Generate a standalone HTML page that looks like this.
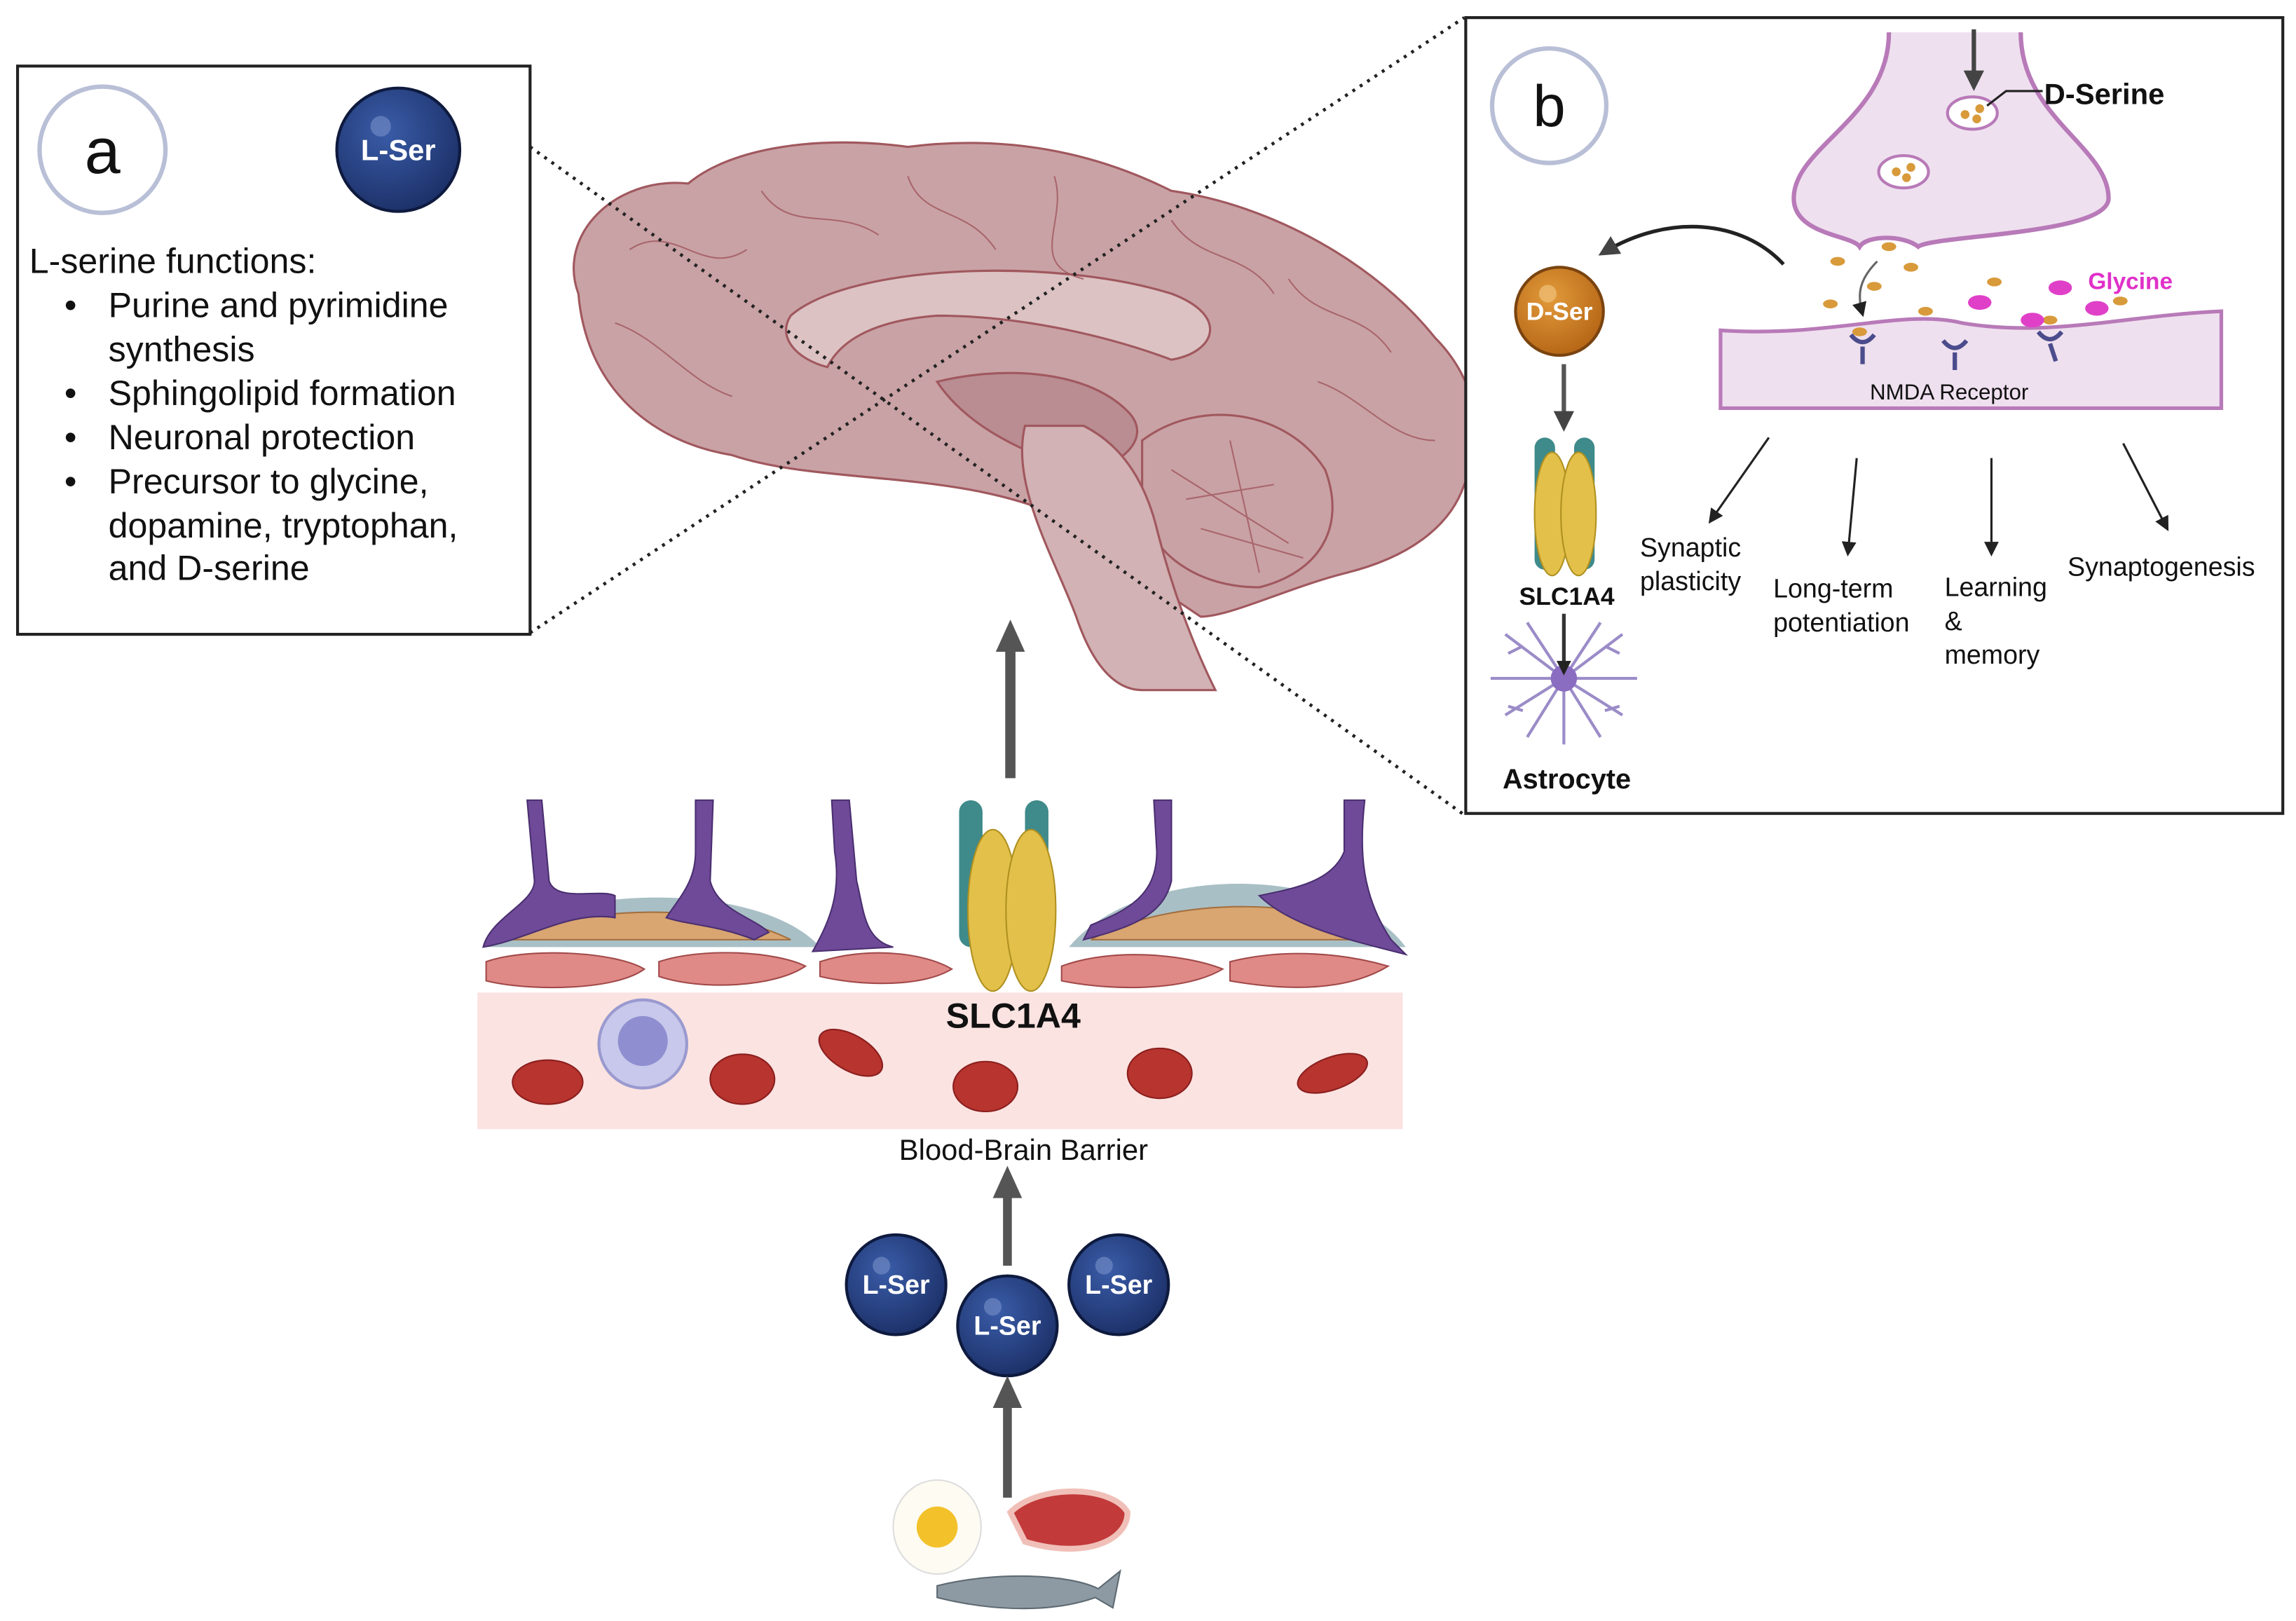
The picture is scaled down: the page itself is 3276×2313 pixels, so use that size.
<!DOCTYPE html>
<html><head><meta charset="utf-8"><style>
html,body{margin:0;padding:0;background:#fff;}
svg{display:block;}
text{font-family:"Liberation Sans",sans-serif;}
</style></head><body>
<svg width="3276" height="2313" viewBox="0 0 1568 1104" preserveAspectRatio="none" xmlns="http://www.w3.org/2000/svg">
<defs>
<radialGradient id="ls" cx="0.4" cy="0.35" r="0.7"><stop offset="0" stop-color="#3a5ca8"/><stop offset="1" stop-color="#1b2f66"/></radialGradient>
<radialGradient id="ds" cx="0.4" cy="0.35" r="0.7"><stop offset="0" stop-color="#e29a3a"/><stop offset="1" stop-color="#b46414"/></radialGradient>
<marker id="ah" markerUnits="userSpaceOnUse" markerWidth="10" markerHeight="10" refX="8" refY="5" orient="auto"><path d="M0,0 L10,5 L0,10 Z" fill="#222"/></marker>
<marker id="am" markerUnits="userSpaceOnUse" markerWidth="14" markerHeight="14" refX="10" refY="7" orient="auto"><path d="M0,0 L14,7 L0,14 Z" fill="#444"/></marker>
<marker id="ab" markerUnits="userSpaceOnUse" markerWidth="22" markerHeight="22" refX="14" refY="11" orient="auto"><path d="M0,1 L22,11 L0,21 Z" fill="#555"/></marker>
</defs>

<!-- Brain -->
<g stroke="#a0585e" stroke-width="1.5">
<path d="M395,200 C380,160 420,120 470,125 C500,100 560,92 620,100 C700,90 760,110 800,130 C870,140 940,180 980,230 C1010,260 1015,300 1000,330 C990,360 960,380 920,390 C880,400 840,420 820,420 C790,400 760,380 720,350 C650,320 560,330 500,310 C440,300 400,260 395,200 Z" fill="#c9a2a5"/>
<path d="M540,215 C580,180 720,175 800,200 C840,215 830,240 800,245 C760,230 700,215 640,215 C600,218 575,230 565,250 C545,245 530,230 540,215 Z" fill="#dcc2c3"/>
<path d="M640,260 C680,250 740,250 770,280 C790,300 760,320 740,320 C700,310 660,290 640,260 Z" fill="#b98d92"/>
<path d="M780,300 C820,270 880,280 905,320 C920,360 900,390 860,400 C820,400 790,380 780,350 Z" fill="#c9a2a5"/>
<path d="M700,290 C690,330 720,380 735,420 C745,450 760,470 780,470 L830,470 C815,440 800,400 790,360 C780,320 760,300 740,290 Z" fill="#d2b2b4"/>
</g>
<g stroke="#a0585e" stroke-width="1" fill="none" opacity="0.8">
<path d="M430,170 C460,150 480,190 510,170 M520,130 C540,160 570,140 600,160 M620,120 C630,150 660,140 680,170 M720,120 C730,150 700,180 740,190 M800,150 C820,180 850,170 870,200 M880,190 C900,220 930,210 950,240 M420,220 C450,230 470,260 500,270 M900,260 C930,270 950,300 980,300 M800,320 L880,370 M810,340 L870,330 M820,360 L890,380 M840,300 L860,390"/>
</g>

<!-- Dotted lines -->
<g stroke="#222" stroke-width="2.2" stroke-dasharray="2,4" fill="none">
<line x1="362" y1="100" x2="1000" y2="555"/>
<line x1="362" y1="431" x2="1000" y2="12"/>
</g>

<!-- Box a -->
<rect x="12" y="45" width="350" height="387" fill="#fff" stroke="#222" stroke-width="2"/>
<circle cx="70" cy="102" r="43" fill="#fff" stroke="#b8bfd6" stroke-width="3"/>
<text x="70" y="118" font-size="44" text-anchor="middle" fill="#111">a</text>
<circle cx="272" cy="102" r="42" fill="url(#ls)" stroke="#0e1a3e" stroke-width="2"/>
<circle cx="260" cy="86" r="7" fill="#6f87c2" opacity="0.7"/>
<text x="272" y="109" font-size="20" font-weight="bold" text-anchor="middle" fill="#fff">L-Ser</text>
<g font-size="24" fill="#111">
<text x="20" y="186">L-serine functions:</text>
<text x="44" y="216">•</text><text x="74" y="216">Purine and pyrimidine</text>
<text x="74" y="246">synthesis</text>
<text x="44" y="276">•</text><text x="74" y="276">Sphingolipid formation</text>
<text x="44" y="306">•</text><text x="74" y="306">Neuronal protection</text>
<text x="44" y="336">•</text><text x="74" y="336">Precursor to glycine,</text>
<text x="74" y="366">dopamine, tryptophan,</text>
<text x="74" y="395">and D-serine</text>
</g>

<!-- Box b -->
<rect x="1001" y="12" width="558" height="542" fill="#fff" stroke="#222" stroke-width="2"/>
<circle cx="1058" cy="72" r="39" fill="#fff" stroke="#b8bfd6" stroke-width="3"/>
<text x="1058" y="86" font-size="40" text-anchor="middle" fill="#111">b</text>
<path d="M1290,22 C1290,80 1225,100 1225,135 C1225,160 1265,160 1270,168 C1275,160 1300,160 1310,168 C1320,160 1440,160 1440,135 C1440,100 1380,80 1380,22" fill="#efe0ef" stroke="#b87ab8" stroke-width="3"/>
<path d="M1175,225 C1250,230 1300,210 1340,220 C1400,230 1450,215 1517,212 L1517,278 L1175,278 Z" fill="#efe0ef" stroke="#b87ab8" stroke-width="2.5"/>
<ellipse cx="1347" cy="77" rx="17" ry="11" fill="#fff" stroke="#b87ab8" stroke-width="2"/>
<ellipse cx="1300" cy="117" rx="17" ry="11" fill="#fff" stroke="#b87ab8" stroke-width="2"/>
<g fill="#d89a3a"><circle cx="1342" cy="78" r="3"/><circle cx="1352" cy="74" r="3"/><circle cx="1350" cy="81" r="3"/><circle cx="1295" cy="117" r="3"/><circle cx="1305" cy="114" r="3"/><circle cx="1302" cy="121" r="3"/>
<ellipse cx="1255" cy="178" rx="5" ry="3"/><ellipse cx="1290" cy="168" rx="5" ry="3"/><ellipse cx="1305" cy="182" rx="5" ry="3"/><ellipse cx="1250" cy="207" rx="5" ry="3"/><ellipse cx="1280" cy="195" rx="5" ry="3"/><ellipse cx="1315" cy="212" rx="5" ry="3"/><ellipse cx="1362" cy="192" rx="5" ry="3"/><ellipse cx="1400" cy="218" rx="5" ry="3"/><ellipse cx="1448" cy="205" rx="5" ry="3"/><ellipse cx="1270" cy="226" rx="5" ry="3"/></g>
<g fill="#e040c8"><ellipse cx="1352" cy="206" rx="8" ry="5"/><ellipse cx="1407" cy="196" rx="8" ry="5"/><ellipse cx="1388" cy="218" rx="8" ry="5"/><ellipse cx="1432" cy="210" rx="8" ry="5"/></g>
<g stroke="#4b4c8c" stroke-width="3" fill="none"><path d="M1264,228 q8,10 16,0 M1272,236 v12"/><path d="M1327,232 q8,10 16,0 M1335,240 v12"/><path d="M1392,226 q8,10 16,0 M1400,234 l4,12"/></g>
<line x1="1348" y1="20" x2="1348" y2="58" stroke="#444" stroke-width="3" marker-end="url(#am)"/>
<path d="M1282,178 C1270,190 1268,200 1272,214" stroke="#666" stroke-width="1.5" fill="none" marker-end="url(#ah)"/>
<path d="M1357,72 L1370,62 L1395,62" stroke="#222" stroke-width="1.5" fill="none"/>
<text x="1396" y="71" font-size="20" font-weight="bold" fill="#111">D-Serine</text>
<text x="1426" y="197" font-size="16" font-weight="bold" fill="#e030c8">Glycine</text>
<text x="1277" y="272" font-size="15" fill="#111">NMDA Receptor</text>
<path d="M1218,180 C1190,150 1140,145 1095,172" stroke="#222" stroke-width="2.5" fill="none" marker-end="url(#am)"/>
<circle cx="1065" cy="212" r="30" fill="url(#ds)" stroke="#7a4410" stroke-width="2"/>
<circle cx="1057" cy="200" r="6" fill="#efc07a" opacity="0.7"/>
<text x="1065" y="218" font-size="17" font-weight="bold" text-anchor="middle" fill="#fff">D-Ser</text>
<line x1="1068" y1="248" x2="1068" y2="290" stroke="#555" stroke-width="3" marker-end="url(#am)"/>
<g>
<rect x="1048" y="298" width="14" height="90" rx="7" fill="#3f8a8a"/><rect x="1075" y="298" width="14" height="90" rx="7" fill="#3f8a8a"/>
<ellipse cx="1060" cy="350" rx="12" ry="42" fill="#e2c04a" stroke="#b09020"/><ellipse cx="1078" cy="350" rx="12" ry="42" fill="#e2c04a" stroke="#b09020"/>
</g>
<text x="1070" y="412" font-size="17" font-weight="bold" text-anchor="middle" fill="#111">SLC1A4</text>
<g stroke="#9b8cc8" stroke-width="2" fill="none">
<path d="M1068,462 l-40,-30 M1068,462 l40,-30 M1068,462 l-50,0 M1068,462 l50,0 M1068,462 l-40,25 M1068,462 l40,25 M1068,462 l0,-40 M1068,462 l0,45 M1068,462 l-25,-38 M1068,462 l25,-38 M1068,462 l-25,40 M1068,462 l25,40 M1040,440 l-10,5 M1096,440 l10,5 M1040,484 l-10,-3 M1096,484 l10,-3"/>
</g>
<circle cx="1068" cy="462" r="9" fill="#8a6cc0"/>
<line x1="1068" y1="418" x2="1068" y2="458" stroke="#333" stroke-width="2.5" marker-end="url(#ah)"/>
<text x="1070" y="537" font-size="19" font-weight="bold" text-anchor="middle" fill="#111">Astrocyte</text>
<g stroke="#222" stroke-width="1.5" marker-end="url(#ah)">
<line x1="1208" y1="298" x2="1168" y2="355"/>
<line x1="1268" y1="312" x2="1262" y2="377"/>
<line x1="1360" y1="312" x2="1360" y2="377"/>
<line x1="1450" y1="302" x2="1480" y2="360"/>
</g>
<g font-size="18" fill="#111">
<text x="1120" y="379">Synaptic</text><text x="1120" y="402">plasticity</text>
<text x="1211" y="407">Long-term</text><text x="1211" y="430">potentiation</text>
<text x="1328" y="406">Learning</text><text x="1328" y="429">&amp;</text><text x="1328" y="452">memory</text>
<text x="1412" y="392">Synaptogenesis</text>
</g>

<line x1="690" y1="530" x2="690" y2="430" stroke="#555" stroke-width="7" marker-end="url(#ab)"/>

<!-- BBB -->
<rect x="326" y="676" width="632" height="93" fill="#fbe3e1"/>
<g fill="#b8342f" stroke="#8a1f1e">
<ellipse cx="374" cy="737" rx="24" ry="15"/><ellipse cx="507" cy="735" rx="22" ry="17"/><ellipse cx="581" cy="717" rx="24" ry="12" transform="rotate(30 581 717)"/><ellipse cx="673" cy="740" rx="22" ry="17"/><ellipse cx="792" cy="731" rx="22" ry="17"/><ellipse cx="910" cy="731" rx="25" ry="11" transform="rotate(-20 910 731)"/>
</g>
<circle cx="439" cy="711" r="30" fill="#c8c8ec" stroke="#9a9ad0" stroke-width="2"/><circle cx="439" cy="709" r="17" fill="#8e8ed0"/>
<g fill="#e08a88" stroke="#a24a4a">
<path d="M332,655 C360,645 420,648 440,660 C420,675 360,675 332,668Z"/>
<path d="M450,655 C480,645 530,648 550,658 C530,672 480,675 450,665Z"/>
<path d="M560,655 C590,645 630,648 650,660 C630,672 590,672 560,665Z"/>
<path d="M725,658 C760,645 810,650 835,660 C810,675 760,675 725,668Z"/>
<path d="M840,655 C880,645 920,650 948,658 C920,675 880,675 840,668Z"/>
</g>
<g fill="#a9bfc6"><path d="M330,645 C380,600 520,600 560,645 Z"/><path d="M730,645 C780,585 920,590 960,645 Z"/></g>
<g fill="#d9a570" stroke="#a37040"><path d="M350,640 C400,615 490,615 540,640 Z"/><path d="M745,640 C800,610 900,610 945,640 Z"/></g>
<g fill="#6f4a98" stroke="#4a2f70" stroke-width="1">
<path d="M360,545 L370,545 L375,600 C380,615 410,605 420,610 L420,625 C390,620 360,640 330,645 C335,625 365,615 365,600Z"/>
<path d="M475,545 L487,545 L485,600 C490,620 515,625 525,635 L515,640 C490,630 470,630 455,625 C465,610 475,600 475,580Z"/>
<path d="M568,545 L580,545 L585,600 C590,620 590,640 610,645 L555,648 C565,630 575,610 570,580Z"/>
<path d="M788,545 L800,545 L800,600 C795,620 780,630 740,640 L745,630 C770,620 790,610 790,580Z"/>
<path d="M918,545 L932,545 C928,580 930,610 950,640 L960,650 C920,640 880,630 860,610 C885,605 910,600 918,580Z"/>
</g>
<g>
<rect x="655" y="545" width="16" height="100" rx="8" fill="#3f8a8a"/><rect x="700" y="545" width="16" height="100" rx="8" fill="#3f8a8a"/>
<ellipse cx="678" cy="620" rx="17" ry="55" fill="#e2c04a" stroke="#b09020"/><ellipse cx="704" cy="620" rx="17" ry="55" fill="#e2c04a" stroke="#b09020"/>
</g>
<text x="692" y="700" font-size="24" font-weight="bold" text-anchor="middle" fill="#111">SLC1A4</text>
<text x="699" y="790" font-size="20" text-anchor="middle" fill="#111">Blood-Brain Barrier</text>

<line x1="688" y1="862" x2="688" y2="802" stroke="#555" stroke-width="6" marker-end="url(#ab)"/>
<g>
<circle cx="612" cy="875" r="34" fill="url(#ls)" stroke="#0e1a3e" stroke-width="2"/><circle cx="602" cy="862" r="6" fill="#6f87c2" opacity="0.7"/><text x="612" y="881" font-size="18" font-weight="bold" text-anchor="middle" fill="#fff">L-Ser</text>
<circle cx="764" cy="875" r="34" fill="url(#ls)" stroke="#0e1a3e" stroke-width="2"/><circle cx="754" cy="862" r="6" fill="#6f87c2" opacity="0.7"/><text x="764" y="881" font-size="18" font-weight="bold" text-anchor="middle" fill="#fff">L-Ser</text>
<circle cx="688" cy="903" r="34" fill="url(#ls)" stroke="#0e1a3e" stroke-width="2"/><circle cx="678" cy="890" r="6" fill="#6f87c2" opacity="0.7"/><text x="688" y="909" font-size="18" font-weight="bold" text-anchor="middle" fill="#fff">L-Ser</text>
</g>
<line x1="688" y1="1020" x2="688" y2="945" stroke="#555" stroke-width="6" marker-end="url(#ab)"/>
<ellipse cx="640" cy="1040" rx="30" ry="32" fill="#fdfbf2" stroke="#ddd"/><circle cx="640" cy="1040" r="14" fill="#f3c12a"/>
<path d="M690,1030 C710,1010 760,1012 770,1030 C770,1050 740,1062 700,1050 Z" fill="#c23a3a" stroke="#f0c0b8" stroke-width="4"/>
<path d="M640,1080 C680,1070 730,1072 750,1082 L765,1070 L760,1095 L748,1088 C720,1098 680,1098 640,1088 Z" fill="#8e9aa3" stroke="#5e6a72"/>
</svg>
</body></html>
